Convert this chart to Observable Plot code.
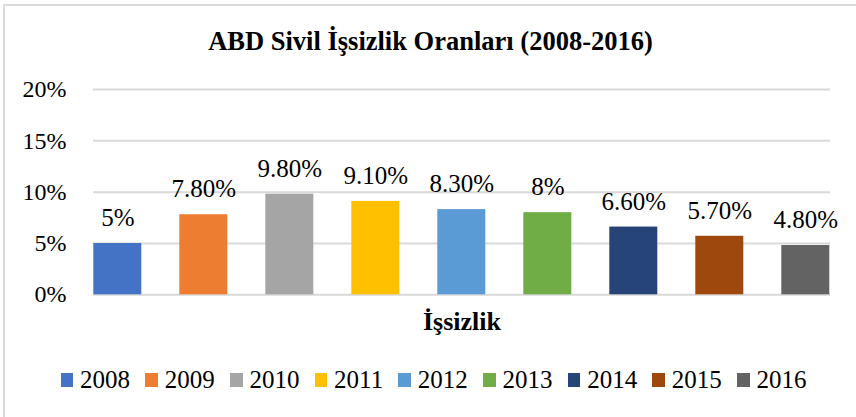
<!DOCTYPE html>
<html>
<head>
<meta charset="utf-8">
<script src="https://cdn.jsdelivr.net/npm/d3@7"></script>
<script src="https://cdn.jsdelivr.net/npm/@observablehq/plot@0.6"></script>
<style>
  body { margin: 0; background: #fff; font-family: "Liberation Serif", "DejaVu Serif", serif; color: #000; }
  #frame { position: absolute; left: 3px; top: 4px; width: 900px; height: 500px;
           border-left: 2px solid #d9d9d9; border-top: 2px solid #d9d9d9; pointer-events: none; }
  #title { box-sizing: border-box; height: 60px; padding-top: 28px; padding-left: 5px;
           font-size: 26.5px; line-height: 26.5px; font-weight: bold; text-align: center; white-space: nowrap; }
  #chart svg { display: block; }
  #legend { box-sizing: border-box; height: 72px; padding-top: 22px; padding-left: 60.7px;
            font-size: 25px; line-height: 25px; white-space: nowrap; }
  .item { display: inline-block; margin-right: 15.3px; }
  .item:last-child { margin-right: 0; }
  .sw { display: inline-block; width: 12.7px; height: 13.5px; margin-right: 6.7px; margin-bottom: 1.3px; vertical-align: baseline; }
</style>
</head>
<body>
<div id="frame"></div>
<div id="title">ABD Sivil İşsizlik Oranları (2008-2016)</div>
<div id="chart"></div>
<div id="legend"></div>
<script>
const category = ["İşsizlik"];
const years = ["2008", "2009", "2010", "2011", "2012", "2013", "2014", "2015", "2016"];
const rates = [0.05, 0.078, 0.098, 0.091, 0.083, 0.08, 0.066, 0.057, 0.048];
const rateLabels = ["5%", "7.80%", "9.80%", "9.10%", "8.30%", "8%", "6.60%", "5.70%", "4.80%"];
const colors = ["#4472C4", "#ED7D31", "#A5A5A5", "#FFC000", "#5B9BD5", "#70AD47", "#264478", "#9E480E", "#636363"];
const yTicks = [0, 0.05, 0.10, 0.15, 0.20];
const yTickLabels = ["0%", "5%", "10%", "15%", "20%"];

const data = years.map((y, i) => ({category: category[0], year: y, rate: rates[i], label: rateLabels[i]}));

const chart = Plot.plot({
  width: 856,
  height: 285,
  marginLeft: 92.7,
  marginRight: 26,
  marginTop: 29,
  marginBottom: 50.7,
  style: {fontFamily: "'Liberation Serif', 'DejaVu Serif', serif", background: "transparent", color: "#000"},
  fx: {domain: category, padding: 0, label: null},
  x: {domain: years, paddingInner: 0.44, paddingOuter: 0, axis: null},
  y: {domain: [0, 0.2], label: null},
  color: {domain: years, range: colors},
  marks: [
    Plot.ruleY(yTicks, {stroke: "#d9d9d9", strokeWidth: 2}),
    Plot.axisY(yTicks, {tickSize: 0, tickPadding: 27, fontSize: 24, label: null,
                        tickFormat: d => yTickLabels[yTicks.indexOf(d)]}),
    Plot.axisFx({anchor: "bottom", tickSize: 0, tickPadding: 17, fontSize: 26, fontWeight: "bold", label: null}),
    Plot.barY(data, {fx: "category", x: "year", y: "rate", fill: "year"}),
    Plot.text(data, {fx: "category", x: "year", y: "rate", text: "label", lineAnchor: "bottom", dy: -17.5, fontSize: 25, fill: "#000"})
  ]
});
document.getElementById("chart").appendChild(chart);

const legend = document.getElementById("legend");
years.forEach((y, i) => {
  const item = document.createElement("span");
  item.className = "item";
  const sw = document.createElement("span");
  sw.className = "sw";
  sw.style.background = colors[i];
  item.appendChild(sw);
  item.appendChild(document.createTextNode(y));
  legend.appendChild(item);
});
</script>
</body>
</html>
